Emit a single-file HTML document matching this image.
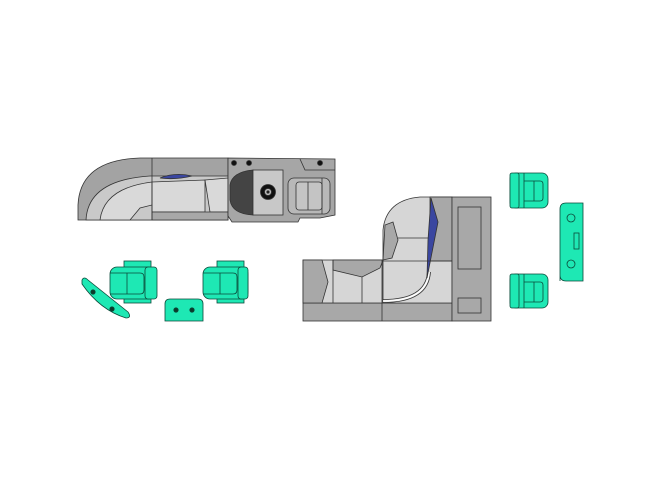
<!DOCTYPE html>
<html><head><style>body{margin:0;background:#fff}svg{display:block}</style></head><body>
<svg width="661" height="480" viewBox="0 0 661 480" xmlns="http://www.w3.org/2000/svg" stroke="#333" stroke-width="0.8">
<!-- Left boat -->
<path d="M78,220 L78,205 Q80,160 140,158 L228,158 L228,220 Z" fill="#a3a3a3"/>
<path d="M86,220 Q88,180 150,176 L228,176 L228,220 Z" fill="#c9c9c9"/>
<path d="M100,220 Q104,188 152,182 L152,205 L140,208 L130,220 Z" fill="#d9d9d9"/>
<path d="M152,182 L205,180 L205,212 L152,212 Z" fill="#d9d9d9"/>
<path d="M205,180 L228,178 L228,212 L210,212 Z" fill="#d9d9d9"/>
<path d="M152,212 L228,212 L228,220 L152,220 Z" fill="#a8a8a8"/>
<line x1="152" y1="158" x2="152" y2="220"/>
<path d="M160,178 Q175,172 192,176 Q176,180 160,178 Z" fill="#3a46a0"/>
<path d="M228,158 L335,159 L335,215 L320,218 L300,218 L298,222 L232,222 L228,216 Z" fill="#a6a6a6"/>
<path d="M230,200 L230,185 Q232,172 253,170 L253,215 Q232,214 230,200 Z" fill="#444"/>
<rect x="253" y="170" width="30" height="45" fill="#c8c8c8"/>
<circle cx="268" cy="192" r="7.5" fill="#111"/><circle cx="268" cy="192" r="3.5" fill="#bbb"/><circle cx="268" cy="192" r="1.2" fill="#111"/>
<path d="M300,159 L305,170 L335,170" fill="none"/>
<rect x="288" y="178" width="42" height="36" rx="6" fill="#b8b8b8"/>
<rect x="296" y="182" width="26" height="28" rx="3" fill="#c4c4c4"/>
<line x1="308" y1="182" x2="308" y2="210"/><line x1="322" y1="178" x2="322" y2="214"/>
<circle cx="234" cy="163" r="2.5" fill="#111"/><circle cx="249" cy="163" r="2.5" fill="#111"/><circle cx="320" cy="163" r="2.5" fill="#111"/>
<!-- Right boat -->
<rect x="303" y="303" width="149" height="18" fill="#a8a8a8"/>
<rect x="303" y="260" width="80" height="43" fill="#d6d6d6"/>
<path d="M303,260 L322,260 L328,282 L322,303 L303,303 Z" fill="#a8a8a8"/>
<path d="M333,260 L383,260 L380,268 L362,277 L333,270 Z" fill="#a8a8a8"/>
<line x1="333" y1="260" x2="333" y2="303"/><line x1="362" y1="277" x2="362" y2="303"/>
<path d="M383,260 L383,230 Q386,200 420,197 L452,197 L452,303 L430,303 Q425,303 383,303 Z" fill="#d6d6d6"/>
<path d="M383,301 Q427,301 429,272" fill="none" stroke="#fff" stroke-width="1.6"/>
<path d="M383,302.5 Q428.5,302.5 430.5,272" fill="none"/>
<path d="M383,299.5 Q425.5,299.5 427.5,272" fill="none"/>
<path d="M383,260 L392,258 L398,240 L393,222 L385,225 Z" fill="#a8a8a8"/>
<line x1="398" y1="238" x2="430" y2="238"/>
<rect x="430" y="197" width="22" height="64" fill="#a8a8a8"/>
<path d="M431,198 L438,222 L427,278 L428,240 Z" fill="#3a46a0"/>
<line x1="383" y1="261" x2="452" y2="261"/>
<line x1="382" y1="260" x2="382" y2="321"/>
<rect x="452" y="197" width="39" height="124" fill="#a8a8a8"/>
<rect x="458" y="207" width="23" height="62" fill="#a8a8a8"/>
<rect x="458" y="298" width="23" height="15" fill="#a8a8a8"/>
<!-- Green furniture -->
<g fill="#1ee8b4" stroke="#0b4a3a">
<path d="M82,280 Q84,276 88,280 L128,312 Q132,318 126,318 Q100,310 82,284 Z"/>
<circle cx="93" cy="292" r="2.2" fill="#0b3a2a"/><circle cx="112" cy="309" r="2.2" fill="#0b3a2a"/>
<rect x="124" y="261" width="27" height="42"/>
<rect x="110" y="267" width="45" height="32" rx="7"/>
<path d="M110,273 L140,273 Q144,273 144,277 L144,290 Q144,294 140,294 L110,294" fill="none"/>
<line x1="127" y1="273" x2="127" y2="294"/>
<rect x="145" y="267" width="12" height="32" rx="3"/>
<rect x="217" y="261" width="27" height="42"/>
<rect x="203" y="267" width="45" height="32" rx="7"/>
<path d="M203,273 L233,273 Q237,273 237,277 L237,290 Q237,294 233,294 L203,294" fill="none"/>
<line x1="220" y1="273" x2="220" y2="294"/>
<rect x="238" y="267" width="10" height="32" rx="3"/>
<path d="M165,321 L165,304 Q165,299 170,299 L198,299 Q203,299 203,304 L203,321 Z"/>
<circle cx="176" cy="310" r="2.2" fill="#0b3a2a"/><circle cx="192" cy="310" r="2.2" fill="#0b3a2a"/>
<rect x="510" y="173" width="38" height="35" rx="6"/>
<rect x="510" y="173" width="9" height="35" rx="2"/>
<line x1="524" y1="173" x2="524" y2="208"/>
<path d="M524,181 L540,181 Q543,181 543,184 L543,198 Q543,201 540,201 L524,201" fill="none"/>
<line x1="534" y1="181" x2="534" y2="201"/>
<rect x="510" y="274" width="38" height="34" rx="6"/>
<rect x="510" y="274" width="9" height="34" rx="2"/>
<line x1="524" y1="274" x2="524" y2="308"/>
<path d="M524,282 L540,282 Q543,282 543,285 L543,299 Q543,302 540,302 L524,302" fill="none"/>
<line x1="534" y1="282" x2="534" y2="302"/>
<path d="M560,281 L560,209 Q560,203 566,203 L583,203 L583,281 L566,281 Q560,281 560,275 Z"/>
<circle cx="571" cy="218" r="4" fill="none"/><circle cx="571" cy="264" r="4" fill="none"/>
<rect x="574" y="233" width="5" height="16" fill="none"/>
</g>
</svg>
</body></html>
